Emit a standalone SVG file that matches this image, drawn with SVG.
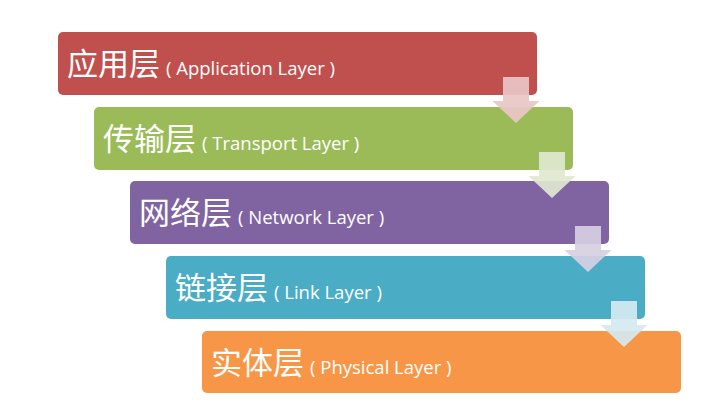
<svg xmlns="http://www.w3.org/2000/svg" width="713" height="407" viewBox="0 0 713 407">
<style>
.box{stroke:none}
.t{fill:#fff;font-family:"Open Sans","Noto Sans CJK SC",sans-serif}
.zh{font-family:"Noto Sans CJK SC",sans-serif;font-size:31px}
.en{font-size:18.5px}
.arr{stroke:none}
</style>
<rect width="713" height="407" fill="#fff"/>
<g id="app">
<rect class="box" x="58" y="32" width="479" height="63" rx="5" fill="#c0504d"/>
<text class="t" x="67" y="75"><tspan class="zh">应用层</tspan><tspan class="en" dx="6">( Application Layer )</tspan></text>
</g>
<g id="transport">
<rect class="box" x="94" y="107" width="479" height="63" rx="5" fill="#9bbb59"/>
<text class="t" x="103" y="150"><tspan class="zh">传输层</tspan><tspan class="en" dx="6">( Transport Layer )</tspan></text>
</g>
<g id="network">
<rect class="box" x="130" y="181" width="479" height="63" rx="5" fill="#8064a2"/>
<text class="t" x="139" y="224"><tspan class="zh">网络层</tspan><tspan class="en" dx="6">( Network Layer )</tspan></text>
</g>
<g id="link">
<rect class="box" x="166" y="256" width="479" height="63" rx="5" fill="#4bacc6"/>
<text class="t" x="175" y="299"><tspan class="zh">链接层</tspan><tspan class="en" dx="6">( Link Layer )</tspan></text>
</g>
<g id="physical">
<rect class="box" x="202" y="331" width="479" height="62" rx="5" fill="#f79646"/>
<text class="t" x="211" y="374"><tspan class="zh">实体层</tspan><tspan class="en" dx="6">( Physical Layer )</tspan></text>
</g>
<g id="connectors">
<polygon class="arr" fill="#e9c7c6" opacity="0.92" points="503,77 529,77 529,101 539.5,101 516,123 492.5,101 503,101"/>
<polygon class="arr" fill="#dfe8d0" opacity="0.92" points="539,152 565,152 565,176 575.5,176 552,198 528.5,176 539,176"/>
<polygon class="arr" fill="#d6cfe2" opacity="0.92" points="575,226 601,226 601,250 611.5,250 588,272 564.5,250 575,250"/>
<polygon class="arr" fill="#d4e9f0" opacity="0.92" points="611,301 637,301 637,325 647.5,325 624,347 600.5,325 611,325"/>
</g>
</svg>
